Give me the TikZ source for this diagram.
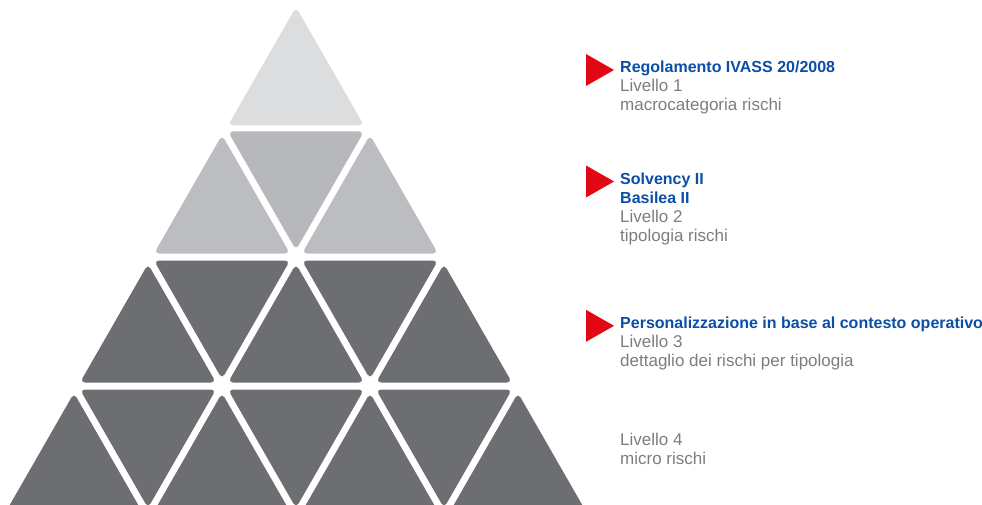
\documentclass[tikz,border=0pt]{standalone}
\usepackage{fontspec}
\setmainfont{Liberation Sans}
\usetikzlibrary{positioning}
\definecolor{pyrtop}{HTML}{DCDDDF}
\definecolor{pyrmid}{HTML}{BCBDC0}
\definecolor{pyrmiddn}{HTML}{B7B8BB}
\definecolor{pyrlow}{HTML}{6D6E71}
\definecolor{headblue}{HTML}{0B4EA6}
\definecolor{levgray}{HTML}{7D7D7D}
\definecolor{markred}{HTML}{E30613}
\newcommand{\hd}[1]{{\color{headblue}\fontsize{16}{19}\selectfont\bfseries #1}}
\tikzset{
  pics/uptri/.style={code={\fill[rounded corners=5pt] (0,-79) -- (68,39.5) -- (-68,39.5) -- cycle;}},
  pics/dntri/.style={code={\fill[rounded corners=5pt] (0,79) -- (68,-39.5) -- (-68,-39.5) -- cycle;}},
  pics/redtip/.style={code={\fill[markred] (-34,-18.5) -- (-6,-2.5) -- (-34,13.5) -- cycle;}},
  lvl/.style={anchor=base west, align=left, inner sep=0pt, text=levgray, font=\fontsize{17}{19}\selectfont},
}

\begin{document}
\begin{tikzpicture}[x = 1pt, y = -1pt]
  \clip (0,0) rectangle (982,505);
  % top level
  \pic[pyrtop] at (296,86) {uptri};
  % second level
  \pic[pyrmid] at (222,214) {uptri};
  \pic[pyrmiddn] at (296,171) {dntri};
  \pic[pyrmid] at (370,214) {uptri};
  % third level
  \pic[pyrlow] at (148,343) {uptri};
  \pic[pyrlow] at (222,300) {dntri};
  \pic[pyrlow] at (296,343) {uptri};
  \pic[pyrlow] at (370,300) {dntri};
  \pic[pyrlow] at (444,343) {uptri};
  % fourth level
  \pic[pyrlow] at (74,472) {uptri};
  \pic[pyrlow] at (148,429) {dntri};
  \pic[pyrlow] at (222,472) {uptri};
  \pic[pyrlow] at (296,429) {dntri};
  \pic[pyrlow] at (370,472) {uptri};
  \pic[pyrlow] at (444,429) {dntri};
  \pic[pyrlow] at (518,472) {uptri};

  % base west sits on the last line of each block
  \node[lvl] (lv1) at (620,110.5) {\hd{Regolamento IVASS 20/2008}\\Livello 1\\macrocategoria rischi};
  \node[lvl] (lv2) at (620,241) {\hd{Solvency II}\\\hd{Basilea II}\\Livello 2\\tipologia rischi};
  \node[lvl] (lv3) at (620,366.3) {\hd{Personalizzazione in base al contesto operativo}\\Livello 3\\dettaglio dei rischi per tipologia};
  \node[lvl] (lv4) at (620,464) {Livello 4\\micro rischi};
  \pic at (620,72.5) {redtip};
  \pic at (620,184) {redtip};
  \pic at (620,328.3) {redtip};
\end{tikzpicture}
\end{document}
